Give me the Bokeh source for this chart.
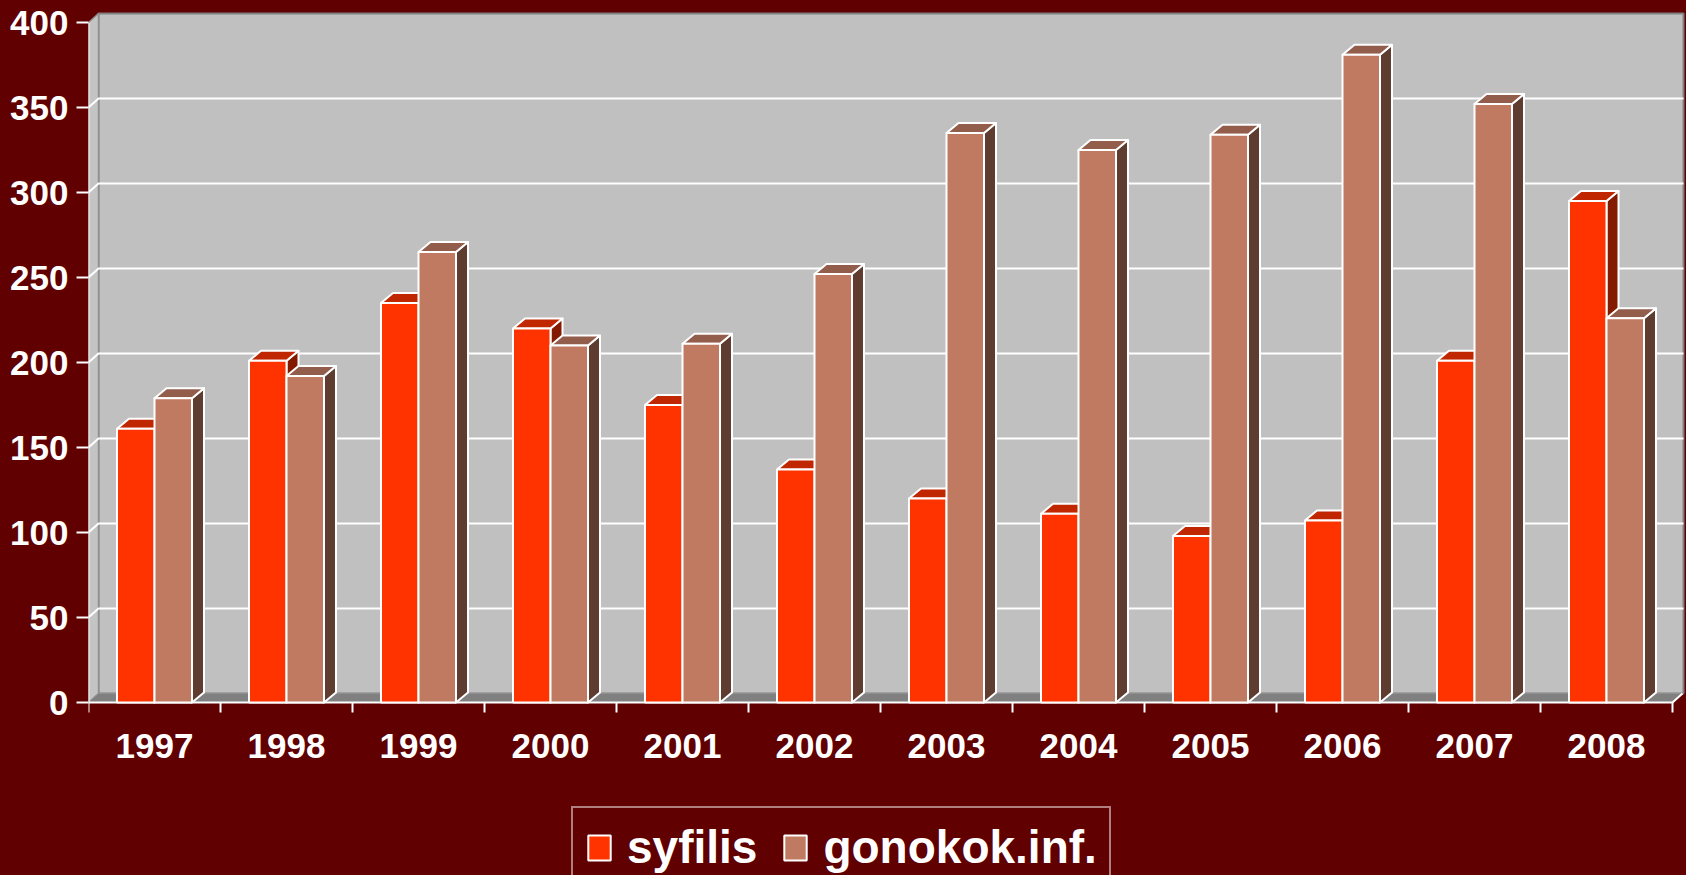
from bokeh.plotting import figure
from bokeh.models import Range1d, FixedTicker, Legend, LegendItem
from bokeh.embed import file_html
from bokeh.resources import INLINE

# ---- data ----
years = ["1997", "1998", "1999", "2000", "2001", "2002",
         "2003", "2004", "2005", "2006", "2007", "2008"]
syfilis = [161, 201, 235, 220, 175, 137, 120, 111, 98, 107, 201, 295]
gonokok = [179, 192, 265, 210, 211, 252, 335, 325, 334, 381, 352, 226]
y_ticks = [0, 50, 100, 150, 200, 250, 300, 350, 400]
series = ["syfilis", "gonokok.inf."]

# ---- styling / geometry (pixels converted to data units) ----
BG = "#600000"
PX_X = 132.0          # pixels per category
PX_Y = 1.7            # pixels per unit
n = len(years)
X_END = 1598 / PX_X
Y_END = 702 / PX_Y
Y_START = -(875 - 702) / PX_Y
WDX, WDY = 10 / PX_X, 9 / PX_Y       # wall depth
BDX, BDY = 12 / PX_X, 10 / PX_Y      # bar depth
BW = 37.5 / PX_X                     # bar width
WALL_R = 1595 / PX_X
YMAX = y_ticks[-1]
TICK_LEN = 10 / PX_Y
LABEL_Y = -43 / PX_Y
COLORS = [("#FF3300", "#C02600", "#841A00"), ("#C07A62", "#935D4B", "#5E3C30")]
FONT = "Liberation Sans"

p = figure(width=1686, height=875, x_range=Range1d(0, X_END), y_range=Range1d(Y_START, Y_END),
           output_backend="svg", toolbar_location=None,
           min_border_left=88, min_border_right=0, min_border_top=0, min_border_bottom=0,
           background_fill_color=BG, border_fill_color=BG, outline_line_color=None)
p.styles = {"background-color": BG}
p.xgrid.visible = False
p.ygrid.visible = False
p.xaxis.visible = False

# back wall
p.quad(left=WDX, right=WALL_R, bottom=WDY, top=YMAX + WDY,
       fill_color="#C0C0C0", line_color="#808080", line_width=2)
# side wall
p.patch([0, WDX, WDX, 0], [0, WDY, YMAX + WDY, YMAX],
        fill_color="#C4C4C4", line_color="#909090", line_width=1.5)
# floor
p.patch([0, n, n + WDX, WDX], [0, 0, WDY, WDY],
        fill_color="#808080", line_color="#909090", line_width=1)

# gridlines
gx, gy = [], []
for v in y_ticks[1:-1]:
    gx.append([0, WDX, WALL_R])
    gy.append([v, v + WDY, v + WDY])
p.multi_line(gx, gy, line_color="white", line_width=2)

# front axis lines
p.line([0, 0], [0, YMAX], line_color="white", line_width=2)
p.line([0, n, n + WDX], [0, 0, WDY], line_color="white", line_width=2)

# category separator ticks and labels
p.segment(x0=list(range(n + 1)), y0=0, x1=list(range(n + 1)), y1=-TICK_LEN,
          line_color="white", line_width=2)
p.text(x=[i + 0.5 for i in range(n)], y=LABEL_Y, text=years,
       text_align="center", text_baseline="middle", text_color="white",
       text_font={"value": FONT}, text_font_style="bold", text_font_size="35px")


def bar_faces(vals, off):
    x0 = [i + 0.5 + off for i in range(n)]
    x1 = [x + BW for x in x0]
    side_x = [[b, b, b + BDX, b + BDX] for b in x1]
    side_y = [[0, v, v + BDY, BDY] for v in vals]
    top_x = [[a, a + BDX, b + BDX, b] for a, b in zip(x0, x1)]
    top_y = [[v, v + BDY, v + BDY, v] for v in vals]
    return x0, x1, side_x, side_y, top_x, top_y


items = []
for name, vals, off, (cf, ct, cs) in [(series[0], syfilis, -BW, COLORS[0]),
                                      (series[1], gonokok, 0.0, COLORS[1])]:
    x0, x1, sx, sy, tx, ty = bar_faces(vals, off)
    p.patches(sx, sy, fill_color=cs, line_color="white", line_width=2, line_join="round")
    p.patches(tx, ty, fill_color=ct, line_color="white", line_width=2, line_join="round")
    r = p.quad(left=x0, right=x1, bottom=0, top=vals, fill_color=cf,
               line_color="white", line_width=2)
    items.append(LegendItem(label=name, renderers=[r]))

# y axis
yax = p.yaxis[0]
yax.ticker = FixedTicker(ticks=y_ticks)
yax.axis_line_color = None
yax.major_tick_line_color = "white"
yax.major_tick_line_width = 2
yax.major_tick_out = 12
yax.major_tick_in = 0
yax.minor_tick_line_color = None
yax.major_label_standoff = 8
yax.major_label_text_color = "white"
yax.major_label_text_font = FONT
yax.major_label_text_font_style = "bold"
yax.major_label_text_font_size = "35px"

legend = Legend(items=items, location=(483, -13), orientation="horizontal",
                background_fill_color=BG, background_fill_alpha=1.0,
                border_line_color="white", border_line_width=2,
                label_text_color="white", label_text_font=FONT,
                label_text_font_style="bold", label_text_font_size="46px",
                glyph_width=28, glyph_height=31, label_standoff=14, spacing=24,
                padding=12, margin=0)
p.add_layout(legend)

open("out.html", "w").write(file_html(p, INLINE))
